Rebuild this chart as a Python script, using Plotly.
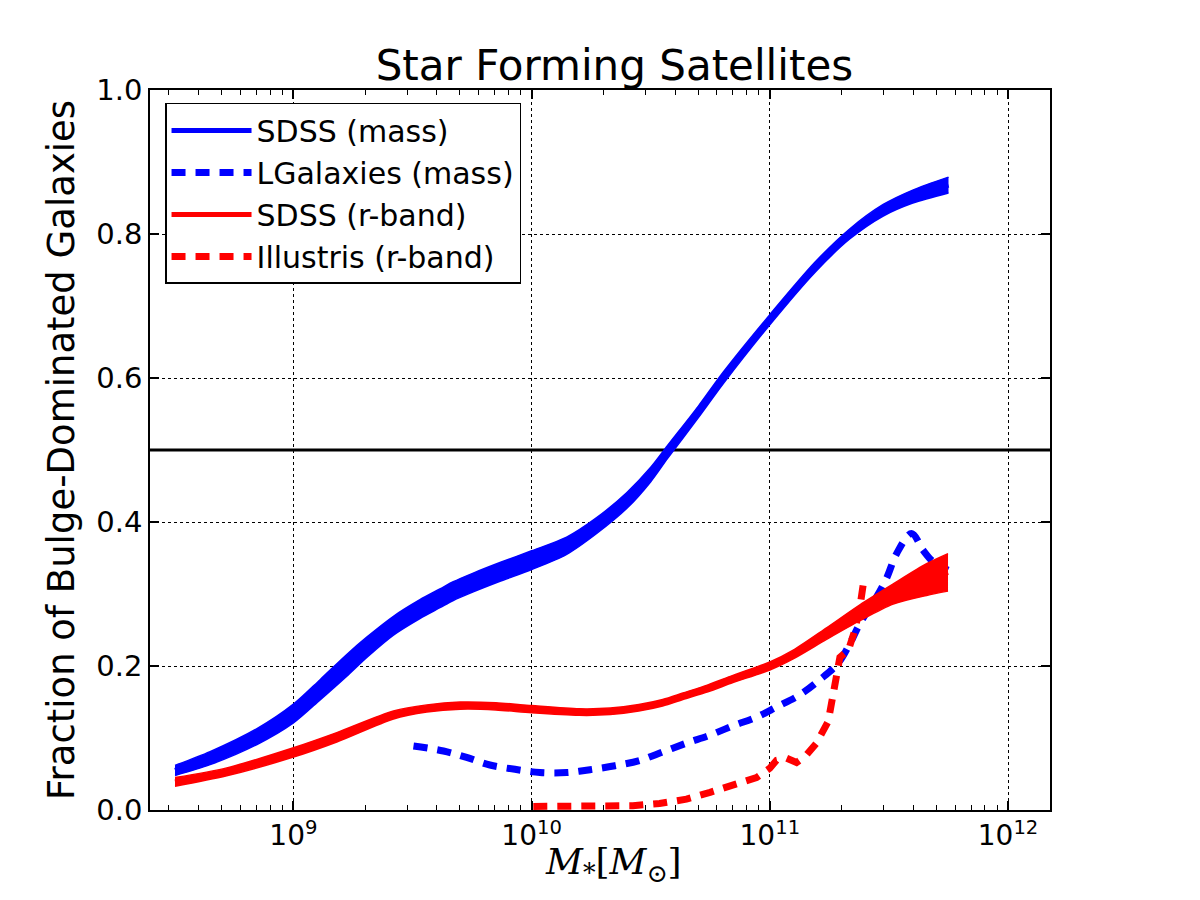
import numpy as np
import plotly.graph_objects as go

# ---- data (log10 stellar mass [Msun], fraction of bulge-dominated galaxies) ----
sdss_mass_logm = [8.503, 8.65, 8.847, 9.0, 9.112, 9.224, 9.308, 9.42, 9.531, 9.615, 9.671, 9.755,
                  9.87, 10.0, 10.147, 10.273, 10.4, 10.5, 10.57, 10.7, 10.804, 11.0, 11.19,
                  11.335, 11.476, 11.6, 11.75]
sdss_mass_frac = [0.055, 0.072, 0.102, 0.134, 0.167, 0.201, 0.226, 0.256, 0.279, 0.294, 0.304,
                  0.316, 0.331, 0.347, 0.367, 0.395, 0.430, 0.466, 0.497, 0.553, 0.600, 0.681,
                  0.754, 0.800, 0.833, 0.852, 0.868]
sdss_mass_err = [0.007, 0.009, 0.011, 0.013, 0.014, 0.015, 0.014, 0.013, 0.013, 0.013, 0.013,
                 0.013, 0.013, 0.013, 0.012, 0.011, 0.011, 0.010, 0.009, 0.008, 0.008, 0.007,
                 0.007, 0.007, 0.008, 0.009, 0.011]

lgal_logm = [9.504, 9.63, 9.727, 9.825, 9.93, 10.035, 10.147, 10.245, 10.35, 10.455, 10.553,
             10.651, 10.749, 10.846, 10.944, 11.028, 11.126, 11.21, 11.287, 11.336, 11.378,
             11.441, 11.49, 11.532, 11.595, 11.643, 11.685, 11.748]
lgal_frac = [0.089, 0.082, 0.073, 0.0625, 0.0565, 0.052, 0.052, 0.056, 0.0615, 0.069, 0.081,
             0.093, 0.104, 0.117, 0.129, 0.143, 0.160, 0.181, 0.204, 0.231, 0.259, 0.292,
             0.322, 0.356, 0.384, 0.361, 0.345, 0.333]

sdss_r_logm = [8.503, 8.72, 9.0, 9.182, 9.42, 9.56, 9.70, 9.85, 10.0, 10.2, 10.33, 10.45, 10.55,
               10.635, 10.74, 10.845, 11.0, 11.098, 11.238, 11.378, 11.518, 11.658, 11.748]
sdss_r_frac = [0.039, 0.053, 0.080, 0.101, 0.132, 0.141, 0.145, 0.144, 0.140, 0.136, 0.137,
               0.142, 0.149, 0.158, 0.169, 0.182, 0.200, 0.216, 0.245, 0.274, 0.300, 0.320, 0.330]
sdss_r_err = [0.006, 0.0055, 0.0065, 0.0065, 0.0055, 0.005, 0.005, 0.005, 0.005, 0.0045, 0.0045,
              0.0045, 0.0045, 0.0045, 0.0048, 0.005, 0.0055, 0.006, 0.008, 0.011, 0.014, 0.022,
              0.026]

illus_logm = [10.007, 10.216, 10.425, 10.537, 10.65, 10.749, 10.846, 10.944, 11.0, 11.028,
              11.07, 11.112, 11.15, 11.196, 11.245, 11.273, 11.294, 11.33, 11.357, 11.378,
              11.392, 11.406]
illus_frac = [0.005, 0.005, 0.006, 0.009, 0.015, 0.0245, 0.034, 0.045, 0.058, 0.069, 0.072,
              0.066, 0.075, 0.093, 0.123, 0.171, 0.212, 0.222, 0.250, 0.282, 0.313, 0.319]

threshold = 0.5
xtick_vals = [1e9, 1e10, 1e11, 1e12]
xtick_text = ["10<sup>9</sup>", "10<sup>10</sup>", "10<sup>11</sup>", "10<sup>12</sup>"]
ytick_vals = [0.0, 0.2, 0.4, 0.6, 0.8, 1.0]
ytick_text = ["0.0", "0.2", "0.4", "0.6", "0.8", "1.0"]
x_range = [2.5e8, 1.5e12]

BLUE = "#0000ff"
RED = "#ff0000"
FONT = "DejaVu Sans"

fig = go.Figure()


def band(logm, frac, err, color, name, width):
    x = 10 ** np.array(logm)
    f = np.array(frac)
    e = np.array(err)
    fig.add_trace(go.Scatter(x=x, y=f - e, mode="lines", line=dict(color=color, width=1.5,
                             shape="spline", smoothing=0.8),
                             showlegend=False, hoverinfo="skip"))
    fig.add_trace(go.Scatter(x=x, y=f + e, mode="lines", line=dict(color=color, width=1.5,
                             shape="spline", smoothing=0.8),
                             fill="tonexty", fillcolor=color, showlegend=False,
                             hoverinfo="skip"))
    fig.add_trace(go.Scatter(x=x, y=f, mode="lines",
                             line=dict(color=color, width=width, shape="spline", smoothing=0.8),
                             name=name, legendgroup=name))


def dashed(logm, frac, color, name, shape):
    fig.add_trace(go.Scatter(x=10 ** np.array(logm), y=frac, mode="lines",
                             line=dict(color=color, width=7, dash="14px,10px", shape=shape),
                             name=name, legendgroup=name))


band(sdss_mass_logm, sdss_mass_frac, sdss_mass_err, BLUE, "SDSS (mass)", 5)
dashed(lgal_logm, lgal_frac, BLUE, "LGalaxies (mass)", "spline")
band(sdss_r_logm, sdss_r_frac, sdss_r_err, RED, "SDSS (r-band)", 5)
dashed(illus_logm, illus_frac, RED, "Illustris (r-band)", "linear")

fig.add_shape(type="line", xref="paper", x0=0, x1=1, yref="y", y0=threshold, y1=threshold,
              line=dict(color="black", width=3), layer="below")

fig.add_annotation(text="<i>M</i><sub>*</sub>[<i>M</i><sub>⊙</sub>]", xref="paper", yref="paper",
                   x=0.515, y=-0.076, xanchor="center", yanchor="middle", showarrow=False,
                   font=dict(family="DejaVu Serif", size=36, color="black"))

minor_vals = [m * 10 ** k for k in range(8, 13) for m in range(2, 10)]

fig.update_layout(
    width=1200, height=900,
    margin=dict(l=150, r=150, t=90, b=90),
    paper_bgcolor="white", plot_bgcolor="white",
    font=dict(family=FONT, color="black", size=28),
    title=dict(text="Star Forming Satellites", x=0.512, xanchor="center", y=0.928,
               yanchor="middle", font=dict(family=FONT, size=42, color="black")),
    showlegend=True,
    legend=dict(x=0.0167, y=0.982, xanchor="left", yanchor="top",
                bgcolor="white", bordercolor="black", borderwidth=1.5,
                font=dict(family=FONT, size=30, color="black"),
                traceorder="grouped", tracegroupgap=0, itemwidth=80),
    xaxis=dict(type="log", range=[np.log10(x_range[0]), np.log10(x_range[1])],
               tickmode="array", tickvals=xtick_vals, ticktext=xtick_text,
               ticks="inside", ticklen=9, tickwidth=1.5, tickcolor="black",
               showline=True, linecolor="black", linewidth=1.5, mirror="ticks",
               showgrid=True, gridcolor="black", griddash="dot", gridwidth=1,
               zeroline=False, tickfont=dict(family=FONT, size=28),
               minor=dict(tickmode="array", tickvals=minor_vals, ticks="inside", ticklen=5,
                          tickwidth=1.2, tickcolor="black", showgrid=False)),
    yaxis=dict(range=[0, 1], tickmode="array", tickvals=ytick_vals, ticktext=ytick_text,
               ticks="inside", ticklen=9, tickwidth=1.5, tickcolor="black",
               showline=True, linecolor="black", linewidth=1.5, mirror="ticks",
               showgrid=True, gridcolor="black", griddash="dot", gridwidth=1,
               zeroline=False, tickfont=dict(family=FONT, size=29),
               title=dict(text="Fraction of Bulge-Dominated Galaxies",
                          font=dict(family=FONT, size=37), standoff=10)),
)

fig.write_html("out.html")
